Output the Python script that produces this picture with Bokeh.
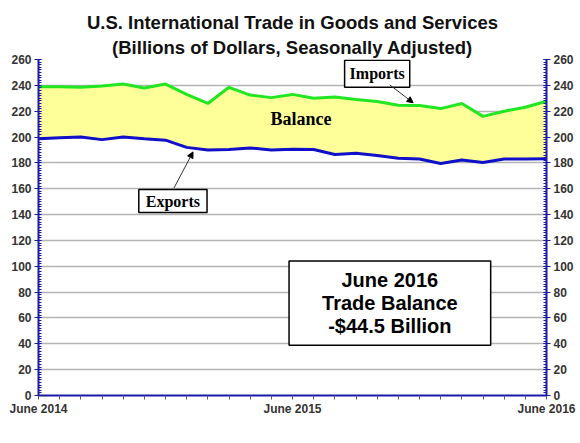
from bokeh.plotting import figure
from bokeh.models import (Range1d, LinearAxis, FixedTicker, Title, Label, Arrow,
                          NormalHead, ColumnDataSource)
from bokeh.embed import file_html
from bokeh.resources import INLINE

months = list(range(25))  # June 2014 .. June 2016
tick_labels = {0: "June 2014", 12: "June 2015", 24: "June 2016"}
imports = [239.0, 239.0, 238.5, 239.5, 241.0, 238.0, 241.0, 233.0, 226.0, 238.5,
           232.5, 230.5, 233.0, 230.0, 231.0, 229.0, 227.5, 224.6, 224.4, 222.0,
           226.0, 216.0, 220.0, 223.0, 227.7]
exports = [198.6, 199.4, 200.0, 198.0, 200.0, 198.6, 197.6, 192.0, 190.0, 190.4,
           191.6, 190.0, 190.5, 190.4, 186.5, 187.5, 185.7, 183.6, 183.0, 179.5,
           182.3, 180.3, 183.0, 183.0, 183.2]

src = ColumnDataSource(dict(x=months, imp=imports, exp=exports))

AXC = "#1a1aa8"
LABC = "#333333"
FONT = "Liberation Sans"
SERIF = "Liberation Serif"

p = figure(width=576, height=432, output_backend="svg", toolbar_location=None,
           x_range=Range1d(0, 24), y_range=Range1d(0, 260),
           min_border_left=38, min_border_right=30, min_border_top=59,
           min_border_bottom=37, y_axis_location=None, x_axis_location=None)
p.outline_line_color = None
p.background_fill_color = "white"

p.title = Title(text="U.S. International Trade in Goods and Services", align="center",
                text_font=FONT, text_font_size="18.5px", text_font_style="bold",
                text_color="#111111", standoff=0)
p.add_layout(Title(text="(Billions of Dollars, Seasonally Adjusted)", align="center",
                   text_font=FONT, text_font_size="18.5px", text_font_style="bold",
                   text_color="#111111", standoff=4), "above")

ticks_y = list(range(0, 261, 20))

def yaxis():
    ax = LinearAxis(ticker=FixedTicker(ticks=ticks_y,
                                       minor_ticks=[v / 10 for v in range(0, 2601, 20)]))
    ax.axis_line_color = AXC
    ax.axis_line_width = 2
    ax.major_tick_line_color = AXC
    ax.minor_tick_line_color = AXC
    ax.major_tick_in = 3
    ax.major_tick_out = 4
    ax.minor_tick_in = 3
    ax.minor_tick_out = 0
    ax.major_label_text_font = FONT
    ax.major_label_text_font_size = "12px"
    ax.major_label_text_font_style = "bold"
    ax.major_label_text_color = LABC
    ax.major_label_standoff = 3
    return ax

p.add_layout(yaxis(), "left")
p.add_layout(yaxis(), "right")

xa = LinearAxis(ticker=FixedTicker(ticks=months))
xa.major_label_overrides = {m: tick_labels.get(m, "") for m in months}
xa.axis_line_color = AXC
xa.axis_line_width = 2
xa.major_tick_line_color = "#555577"
xa.major_tick_in = 0
xa.major_tick_out = 4
xa.minor_tick_line_color = None
xa.major_label_text_font = FONT
xa.major_label_text_font_size = "12px"
xa.major_label_text_font_style = "bold"
xa.major_label_text_color = LABC
xa.major_label_standoff = 2
p.add_layout(xa, "below")

p.xgrid.visible = False
p.ygrid.ticker = FixedTicker(ticks=ticks_y[1:])
p.ygrid.grid_line_color = "#b4b4b4"
p.ygrid.grid_line_width = 1.5

p.varea(x="x", y1="exp", y2="imp", source=src, fill_color="#ffff99")
p.line(x="x", y="imp", source=src, line_color="#22e622", line_width=3)
p.line(x="x", y="exp", source=src, line_color="#1010c8", line_width=3)

p.add_layout(Label(x=12.4, y=214, text="Balance", text_font=SERIF,
                   text_font_size="18px", text_font_style="bold",
                   text_align="center", text_baseline="middle", text_color="black"))

for (txt, x, y, pad) in [("Imports", 16.0, 249.0, dict(left=5, right=5, top=5, bottom=5)),
                         ("Exports", 6.35, 150.5, dict(left=7, right=7, top=3, bottom=3))]:
    p.add_layout(Label(x=x, y=y, text=txt, text_font=SERIF, text_font_size="16px",
                       text_font_style="bold", text_align="center", text_baseline="middle",
                       text_color="black", background_fill_color="white",
                       border_line_color="black", border_line_width=1.5, padding=pad))

p.add_layout(Arrow(x_start=16.6, y_start=240.3, x_end=17.7, y_end=226.5,
                   line_color="#333333", line_width=1,
                   end=NormalHead(size=6, fill_color="black", line_color="black")))
p.add_layout(Arrow(x_start=6.4, y_start=160.5, x_end=7.3, y_end=188.5,
                   line_color="#333333", line_width=1,
                   end=NormalHead(size=6, fill_color="black", line_color="black")))

p.add_layout(Label(x=16.6, y=71.5, text="June 2016\nTrade Balance\n-$44.5 Billion",
                   text_font=FONT, text_font_size="20px", text_font_style="bold",
                   text_align="center", text_baseline="middle", text_color="black",
                   text_line_height=1.05,
                   background_fill_color="white", border_line_color="black",
                   border_line_width=1.5, padding=dict(left=33, right=33, top=8, bottom=8)))

open("out.html", "w").write(file_html(p, INLINE))
